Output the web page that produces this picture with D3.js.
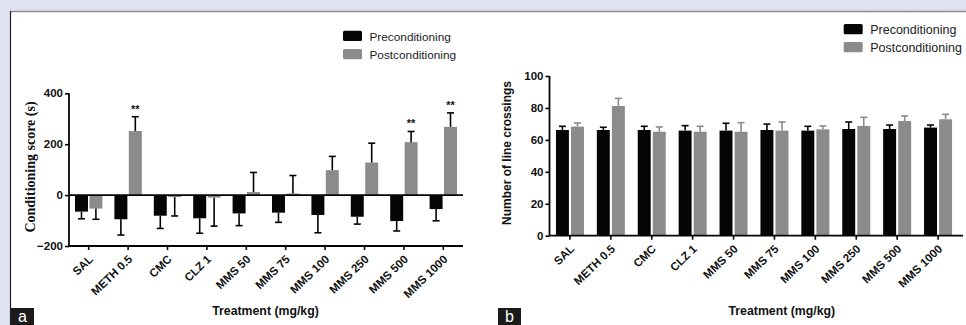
<!DOCTYPE html>
<html><head><meta charset="utf-8">
<script src="https://cdn.jsdelivr.net/npm/d3@7"></script>
<style>
html,body{margin:0;padding:0;background:#e0e3f1;}
svg{display:block;}
</style></head>
<body>
<svg id="c" width="966" height="325"></svg>
<script>
const categories = ["SAL","METH 0.5","CMC","CLZ 1","MMS 50","MMS 75","MMS 100","MMS 250","MMS 500","MMS 1000"];
const seriesNames = ["Preconditioning","Postconditioning"];
// Panel a: conditioning score (s)
const scorePre = [-65,-95,-81,-91,-72,-69,-78,-85,-102,-55];
const scorePreErr = [28,62,50,59,48,38,70,29,39,46];
const scorePost = [-53,252,-8,-10,12,6,98,128,208,268];
const scorePostErr = [42,56,74,112,77,71,54,76,42,55];
const scoreSig = ["","**","","","","","","","**","**"];
const scoreTicks = [-200,0,200,400];
// Panel b: number of line crossings
const crossPre = [66.2,66.2,66.2,65.8,65.8,66.2,65.8,66.8,66.8,67.7];
const crossPreErr = [2.3,1.7,2.3,3.1,4.6,3.7,2.7,4.4,2.5,1.6];
const crossPost = [68.3,81.2,65.1,65.1,65.1,65.8,66.6,68.7,71.8,72.9];
const crossPostErr = [2.3,4.8,3.0,3.4,5.7,5.4,2.1,5.4,3.2,3.1];
const crossTicks = [0,20,40,60,80,100];

const BLACK = "#050505", GRAY = "#8b8b8b";
const SANS = "Liberation Sans, Arial, sans-serif";
const svg = d3.select("#c");
svg.append("rect").attr("x",0).attr("y",0).attr("width",966).attr("height",325).attr("fill","#e0e3f1");
svg.append("rect").attr("x",10).attr("y",12).attr("width",956).attr("height",313).attr("fill","#ffffff");
svg.append("line").attr("x1",10).attr("x2",966).attr("y1",11.5).attr("y2",11.5).attr("stroke","#8d8d92").attr("stroke-width",1.5);
svg.append("line").attr("x1",10.5).attr("x2",10.5).attr("y1",11).attr("y2",325).attr("stroke","#222").attr("stroke-width",1.2);

function panel(o){
  const g = svg.append("g");
  const x = d3.scaleBand().domain(categories).range(o.xr).paddingInner(0).paddingOuter(0);
  const xs = d3.scaleBand().domain([0,1]).range([-o.half, o.half]).paddingInner(o.gap);
  const y = d3.scaleLinear().domain(o.yd).range(o.yr);
  const base = y(0);
  const cx = d => x(d.c)+x.bandwidth()/2+xs(d.s)+xs.bandwidth()/2;
  const data = [];
  categories.forEach((c,i)=>{
    data.push({c, i, s:0, v:o.pre[i], e:o.preErr[i]});
    data.push({c, i, s:1, v:o.post[i], e:o.postErr[i]});
  });
  // bars
  g.selectAll("rect.bar").data(data).join("rect")
    .attr("x", d=>x(d.c)+x.bandwidth()/2+xs(d.s))
    .attr("width", xs.bandwidth())
    .attr("y", d=>Math.min(y(d.v), base))
    .attr("height", d=>Math.abs(y(d.v)-base))
    .attr("fill", d=>d.s===0?BLACK:GRAY);
  // error bars
  const tip = d => y(d.v + (d.v>=0?d.e:-d.e));
  const ec = d => d.s===1 && o.grayErr?GRAY:BLACK;
  const eb = g.selectAll("g.eb").data(data).join("g");
  eb.append("line").attr("x1",cx).attr("x2",cx).attr("y1",d=>y(d.v)).attr("y2",tip)
    .attr("stroke",ec).attr("stroke-width",1.6);
  eb.append("line").attr("x1",d=>cx(d)-3.5).attr("x2",d=>cx(d)+3.5).attr("y1",tip).attr("y2",tip)
    .attr("stroke",ec).attr("stroke-width",1.6);
  // significance
  if(o.sig){
    g.selectAll("text.sig").data(data.filter(d=>d.s===1 && o.sig[d.i])).join("text")
      .attr("x",cx).attr("y",d=>y(d.v+d.e)-4)
      .attr("text-anchor","middle")
      .attr("font-family",SANS).attr("font-weight","bold").attr("font-size",11)
      .attr("fill","#111").text(d=>o.sig[d.i]);
  }
  if(o.zeroLine){
    g.append("line").attr("x1",o.xr[0]).attr("x2",o.axisEnd).attr("y1",base).attr("y2",base)
      .attr("stroke",BLACK).attr("stroke-width",1.6);
  }
  // y axis
  const ya = g.append("g").attr("transform",`translate(${o.xr[0]},0)`)
    .call(d3.axisLeft(y).tickValues(o.yticks).tickSize(4).tickPadding(2).tickFormat(d3.format("d")));
  ya.select(".domain").attr("stroke",BLACK).attr("stroke-width",1.8).attr("d",`M0,${o.yr[1]}V${o.yr[0]}`);
  ya.selectAll(".tick line").attr("stroke",BLACK).attr("stroke-width",1.6);
  ya.selectAll(".tick text").attr("font-family",SANS).attr("font-weight","bold")
    .attr("font-size",11.5).attr("fill","#111");
  // x axis
  const xa = g.append("g").attr("transform",`translate(0,${o.yr[0]})`)
    .call(d3.axisBottom(x).tickSize(4).tickSizeOuter(0));
  xa.select(".domain").attr("stroke",BLACK).attr("stroke-width",1.8).attr("d",`M${o.xr[0]},0H${o.axisEnd}`);
  xa.selectAll(".tick line").attr("stroke",BLACK).attr("stroke-width",1.6);
  xa.selectAll(".tick text")
    .attr("font-family",SANS).attr("font-weight","bold").attr("font-size",11.5)
    .attr("fill","#111").attr("text-anchor","end")
    .attr("dy",null).attr("y",null)
    .attr("transform","translate(5,14) rotate(-44)");
  // axis titles
  g.append("text").attr("transform",`translate(${o.ytx},${o.yty}) rotate(-90)`)
    .attr("text-anchor","middle").attr("font-family",o.ytFont).attr("font-weight","bold")
    .attr("font-size",o.ytSize).attr("fill","#111").text(o.ytitle);
  g.append("text").attr("x",o.xtx).attr("y",315).attr("text-anchor","middle")
    .attr("font-family",SANS).attr("font-weight","bold").attr("font-size",12.3)
    .attr("fill","#111").text("Treatment (mg/kg)");
  // legend
  const lg = g.append("g");
  seriesNames.forEach((n,i)=>{
    lg.append("rect").attr("x",o.lx).attr("y",o.ly+i*o.lstep).attr("width",19).attr("height",10.3)
      .attr("rx",1.5).attr("fill",i===0?BLACK:GRAY);
    lg.append("text").attr("x",o.lx+26.5).attr("y",o.ly+i*o.lstep+9.8)
      .attr("font-family",SANS).attr("font-size",o.lsize).attr("fill","#222").text(n);
  });
  // panel letter
  g.append("rect").attr("x",o.bx).attr("y",308).attr("width",23).attr("height",17).attr("fill","#1a1a1a");
  g.append("text").attr("x",o.bx+11.5).attr("y",322).attr("text-anchor","middle")
    .attr("font-family",SANS).attr("font-size",16).attr("fill","#fff").text(o.letter);
}

panel({xr:[69,463], axisEnd:463, half:13.7, gap:0.1, yd:[-200,400], yr:[246,93.3],
  pre:scorePre, preErr:scorePreErr, post:scorePost, postErr:scorePostErr, sig:scoreSig,
  yticks:scoreTicks, zeroLine:true, grayErr:false,
  ytitle:"Conditioning score (s)", ytFont:"Liberation Serif, Times New Roman, serif", ytSize:14, ytx:35, yty:167,
  xtx:265.5, lx:343, ly:30.7, lstep:18.3, lsize:11.8, bx:11, letter:"a"});

panel({xr:[549.5,958.5], axisEnd:963, half:14, gap:0.14, yd:[0,100], yr:[235.7,76],
  pre:crossPre, preErr:crossPreErr, post:crossPost, postErr:crossPostErr, sig:null,
  yticks:crossTicks, zeroLine:false, grayErr:true,
  ytitle:"Number of line crossings", ytFont:SANS, ytSize:12, ytx:511, yty:153,
  xtx:781.8, lx:843.7, ly:24, lstep:18, lsize:12.5, bx:498, letter:"b"});
</script>
</body></html>
